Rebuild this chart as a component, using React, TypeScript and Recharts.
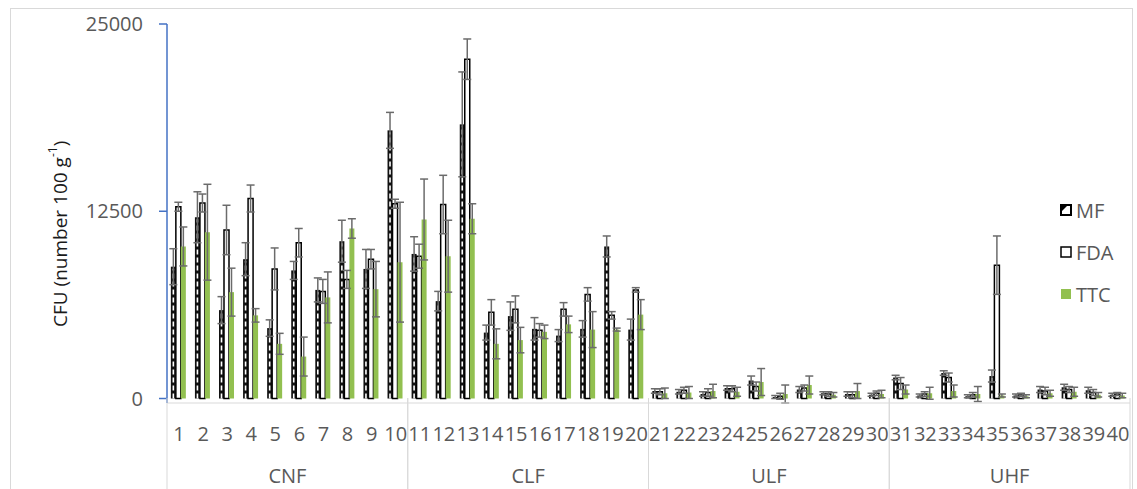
import React from 'react'
import {
  BarChart, Bar, XAxis, YAxis, ErrorBar, Legend
} from 'recharts'

// sample numbers 1..40 and their field type
const samples = [
  '1', '2', '3', '4', '5', '6', '7', '8', '9', '10',
  '11', '12', '13', '14', '15', '16', '17', '18', '19', '20',
  '21', '22', '23', '24', '25', '26', '27', '28', '29', '30',
  '31', '32', '33', '34', '35', '36', '37', '38', '39', '40',
]
const groupNames = ['CNF', 'CLF', 'ULF', 'UHF']

// CFU values
const mf = [
  8800, 12100, 5900, 9300, 4700, 8550, 7250, 10500, 8650, 17900,
  9650, 6500, 18300, 4400, 5500, 4650, 4200, 4650, 10150, 4600,
  500, 450, 300, 700, 1200, 100, 600, 350, 300, 250,
  1400, 200, 1700, 150, 1500, 200, 600, 750, 550, 250,
]
const mfErr = [
  1200, 1700, 900, 1100, 550, 600, 800, 1400, 1300, 1200,
  1150, 650, 3500, 500, 950, 750, 400, 550, 700, 700,
  150, 150, 150, 150, 300, 100, 200, 100, 150, 100,
  150, 100, 150, 100, 400, 100, 200, 200, 200, 100,
]
const fda = [
  12800, 13050, 11250, 13350, 8650, 10400, 7150, 7950, 9300, 13000,
  9500, 12950, 22650, 5750, 5950, 4550, 5950, 6950, 5550, 7250,
  450, 550, 400, 650, 800, 150, 700, 300, 250, 350,
  1000, 300, 1400, 250, 8900, 250, 500, 600, 400, 300,
]
const fdaErr = [
  300, 600, 1650, 900, 1400, 950, 800, 600, 650, 300,
  800, 1950, 1350, 850, 900, 450, 450, 450, 250, 150,
  200, 200, 250, 200, 300, 200, 200, 150, 200, 150,
  400, 150, 300, 150, 1950, 100, 250, 200, 200, 100,
]
const ttc = [
  10150, 11100, 7100, 5550, 3650, 2800, 6750, 11350, 7300, 9100,
  11950, 9500, 12000, 3650, 3900, 4450, 4950, 4600, 4600, 5600,
  350, 400, 500, 450, 1100, 300, 900, 250, 500, 300,
  600, 350, 500, 300, 200, 150, 350, 450, 250, 200,
]
const ttcErr = [
  1300, 3200, 1600, 450, 700, 1300, 1700, 650, 1850, 4000,
  2700, 2400, 1000, 1000, 850, 450, 550, 1200, 100, 1000,
  350, 400, 450, 300, 900, 600, 600, 150, 500, 250,
  300, 400, 400, 500, 100, 100, 200, 300, 150, 150,
]
const yTicks = [0, 12500, 25000]
const legendOrder = ['mf', 'fda', 'ttc']

const data = samples.map((id, i) => ({
  id,
  group: groupNames[Math.floor(i / 10)],
  mf: mf[i], mfErr: mfErr[i],
  fda: fda[i], fdaErr: fdaErr[i],
  ttc: ttc[i], ttcErr: ttcErr[i],
}))

const W = 1137
const H = 489
const M = { top: 24, right: 7, bottom: 0, left: 0 }
const Y_W = 167
const PLOT_BOTTOM = 398
const GROUP_W = (W - M.right - Y_W) / 4
const FONT = "'Open Sans', sans-serif"
const GREY = '#595959'
const GREEN = '#92C050'
const ERR = '#6b6b6b'

function MfShape(props: any) {
  const { x, y, width, height } = props
  if (!height || height <= 0) return null
  const cx = x + width / 2
  return (
    <g>
      <rect x={x} y={y} width={width} height={height} fill="#111" />
      <line x1={cx} x2={cx} y1={y + height} y2={y + 2} stroke="#fff"
        strokeWidth={1.6} strokeDasharray="5 3" />
    </g>
  )
}

// rotated title, starts at the bottom and runs upward
function YLabel() {
  const cx = 60
  const cy = 327
  return (
    <text x={cx} y={cy} transform={`rotate(-90, ${cx}, ${cy})`} textAnchor="start"
      dominantBaseline="central" fontFamily={FONT} fontSize={19} fill="#1a1a1a">
      CFU (number 100 g<tspan dy={-8} fontSize={12}>-1</tspan><tspan dy={8}>)</tspan>
    </text>
  )
}

function GroupTick(props: any) {
  const { x, payload } = props
  const l = x - GROUP_W / 2
  const r = x + GROUP_W / 2
  return (
    <g>
      <line x1={l} x2={l} y1={PLOT_BOTTOM} y2={H} stroke="#d9d9d9" />
      <line x1={r} x2={r} y1={PLOT_BOTTOM} y2={H} stroke="#d9d9d9" />
      <text x={x} y={475} textAnchor="middle" dominantBaseline="central"
        fontFamily={FONT} fontSize={20} fill={GREY}>{payload.value}</text>
    </g>
  )
}

function Marker({ k }: { k: string }) {
  if (k === 'mf') {
    return (
      <svg width={12} height={12}>
        <rect x={1} y={1} width={10} height={10} fill="#fff" stroke="#000" strokeWidth={2} />
        <polygon points="1,1 8,1 1,8" fill="#000" />
      </svg>
    )
  }
  if (k === 'fda') {
    return (
      <svg width={12} height={12}>
        <rect x={1} y={1} width={10} height={10} fill="#fff" stroke="#000" strokeWidth={1.5} />
      </svg>
    )
  }
  return (
    <svg width={12} height={12}>
      <rect x={1} y={1} width={10} height={10} fill={GREEN} />
    </svg>
  )
}

function LegendBox(props: any) {
  const items = [...(props.payload || [])].sort(
    (a: any, b: any) => legendOrder.indexOf(a.dataKey) - legendOrder.indexOf(b.dataKey)
  )
  return (
    <div style={{ fontFamily: FONT, fontSize: 20, color: GREY }}>
      {items.map((it: any) => (
        <div key={it.value} style={{ height: 42, display: 'flex', alignItems: 'center', gap: 4 }}>
          <Marker k={it.dataKey} />
          <span>{it.value}</span>
        </div>
      ))}
    </div>
  )
}

export default function App() {
  return (
    <div style={{ position: 'absolute', left: 0, top: 0, width: W, height: H, background: '#fff' }}>
      <div style={{
        position: 'absolute', left: 10, top: 8, width: 1123, height: 500,
        border: '1px solid #d9d9d9', boxSizing: 'border-box'
      }} />
      <div style={{ position: 'absolute', left: 0, top: 0 }}>
        <BarChart width={W} height={H} data={data} margin={M}
          barCategoryGap="16%" barGap={0}>
          <XAxis dataKey="id" xAxisId={0} interval={0} height={47}
            axisLine={{ stroke: '#d9d9d9' }} tickLine={false} tickMargin={18}
            tick={{ fontFamily: FONT, fontSize: 20, fill: GREY }} />
          <XAxis dataKey="group" xAxisId="grp" allowDuplicatedCategory={false}
            interval={0} height={39} axisLine={false} tickLine={false}
            tick={<GroupTick />} />
          <YAxis domain={[0, 25000]} ticks={yTicks} width={Y_W} interval={0}
            axisLine={{ stroke: '#4472C4', strokeWidth: 1.5 }}
            tickLine={{ stroke: '#4472C4', strokeWidth: 1.5 }} tickSize={8} tickMargin={16}
            tick={{ fontFamily: FONT, fontSize: 20, fill: GREY }}
            label={<YLabel />} />
          <Legend layout="vertical" align="center" verticalAlign="middle"
            content={<LegendBox />}
            wrapperStyle={{ left: 1060, top: 189, width: 'auto' }} />
          <Bar dataKey="mf" name="MF" xAxisId={0} fill="#111" shape={<MfShape />}
            isAnimationActive={false}>
            <ErrorBar dataKey="mfErr" width={4} stroke={ERR} strokeWidth={1.5} direction="y" />
          </Bar>
          <Bar dataKey="fda" name="FDA" xAxisId={0} fill="#fff" stroke="#000"
            strokeWidth={1.5} isAnimationActive={false}>
            <ErrorBar dataKey="fdaErr" width={4} stroke={ERR} strokeWidth={1.5} direction="y" />
          </Bar>
          <Bar dataKey="ttc" name="TTC" xAxisId={0} fill={GREEN} isAnimationActive={false}>
            <ErrorBar dataKey="ttcErr" width={4} stroke={ERR} strokeWidth={1.5} direction="y" />
          </Bar>
        </BarChart>
      </div>
    </div>
  )
}
